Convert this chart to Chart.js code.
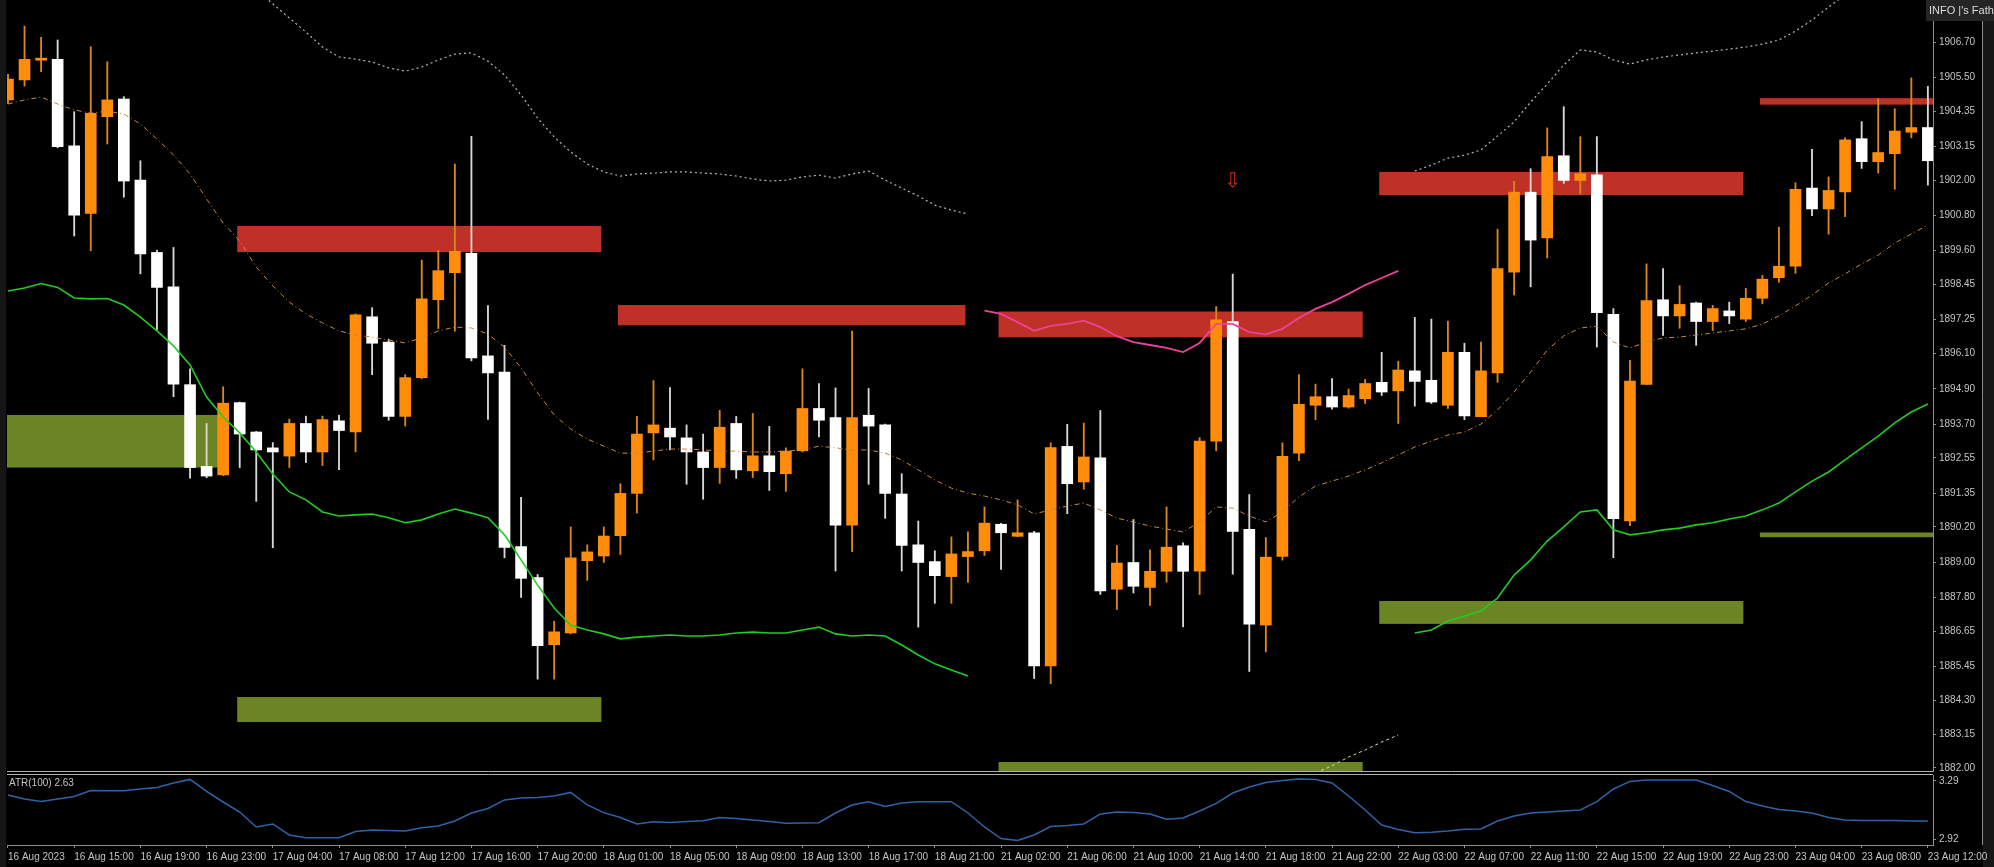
<!DOCTYPE html>
<html>
<head>
<meta charset="utf-8">
<script src="https://cdn.jsdelivr.net/npm/chart.js@4.4.0/dist/chart.umd.min.js"></script>
<style>
  html, body { margin: 0; padding: 0; background: #000; }
  body { width: 1994px; height: 867px; position: relative; overflow: hidden; }
  canvas { position: absolute; left: 0; }
  #priceChart { top: 0; }
  #atrChart { top: 772px; }
</style>
</head>
<body>
<canvas id="priceChart" width="1994" height="772"></canvas>
<canvas id="atrChart" width="1994" height="95"></canvas>
<script>
// XAUUSD H1, 16 Aug 11:00 -> 23 Aug 12:00 (117 bars)
let opens = [
  1904.73, 1905.41, 1906.08, 1906.11, 1903.17, 1900.87, 1904.16, 1904.76, 1902.00, 1899.54,
  1898.37, 1895.04, 1892.26, 1891.97, 1894.43, 1893.43, 1892.89, 1892.61, 1893.72, 1892.75,
  1893.81, 1893.43, 1897.35, 1896.49, 1893.96, 1895.28, 1897.93, 1898.85, 1899.51, 1896.02,
  1895.47, 1889.53, 1888.48, 1886.19, 1886.59, 1889.05, 1889.21, 1889.90, 1891.34, 1893.40,
  1893.56, 1893.23, 1892.75, 1892.22, 1893.72, 1892.11, 1892.62, 1892.01, 1892.79, 1894.23,
  1893.92, 1890.26, 1894.00, 1893.67, 1891.32, 1889.59, 1889.02, 1888.51, 1889.19, 1889.39,
  1890.29, 1889.88, 1890.00, 1885.47, 1892.94, 1891.73, 1892.55, 1888.08, 1888.99, 1888.14,
  1888.69, 1889.56, 1888.69, 1893.12, 1897.19, 1890.12, 1886.86, 1889.20, 1892.71, 1894.34,
  1894.63, 1894.28, 1894.56, 1895.12, 1894.83, 1895.51, 1895.19, 1894.34, 1896.14, 1893.95,
  1895.44, 1898.87, 1901.59, 1900.03, 1902.83, 1901.99, 1902.18, 1897.43, 1890.40, 1895.05,
  1897.93, 1897.38, 1897.82, 1897.19, 1897.55, 1897.27, 1897.98, 1898.68, 1899.07, 1901.73,
  1901.02, 1901.60, 1903.41, 1902.63, 1902.90, 1903.63, 1903.79,
];
let highs = [
  1905.60, 1907.24, 1906.86, 1906.77, 1904.33, 1906.54, 1906.03, 1904.84, 1902.66, 1899.62,
  1899.71, 1895.58, 1893.72, 1894.97, 1894.45, 1893.45, 1893.07, 1893.87, 1893.97, 1893.97,
  1894.00, 1897.45, 1897.66, 1896.59, 1895.38, 1899.28, 1899.61, 1902.55, 1903.49, 1897.73,
  1896.38, 1891.21, 1888.58, 1886.99, 1890.20, 1889.59, 1890.20, 1891.67, 1893.96, 1895.18,
  1894.94, 1893.67, 1893.36, 1894.17, 1893.96, 1894.06, 1893.62, 1892.89, 1895.58, 1895.08,
  1894.93, 1896.86, 1894.91, 1893.70, 1892.01, 1890.40, 1889.39, 1889.86, 1890.03, 1890.88,
  1890.32, 1891.12, 1890.05, 1893.06, 1893.69, 1893.73, 1894.16, 1889.57, 1890.45, 1889.42,
  1890.88, 1889.66, 1893.24, 1897.70, 1898.80, 1891.30, 1889.84, 1893.06, 1895.38, 1895.06,
  1895.25, 1894.89, 1895.22, 1896.14, 1895.84, 1897.33, 1897.27, 1897.20, 1896.45, 1896.49,
  1900.33, 1901.96, 1902.39, 1903.78, 1904.50, 1903.48, 1903.48, 1897.63, 1895.87, 1899.15,
  1898.99, 1898.41, 1897.85, 1897.74, 1897.85, 1898.32, 1898.76, 1900.40, 1901.91, 1903.05,
  1902.11, 1903.44, 1903.99, 1904.77, 1904.43, 1905.48, 1905.19,
];
let lows = [
  1904.60, 1905.20, 1905.69, 1903.10, 1900.10, 1899.60, 1903.23, 1901.42, 1898.81, 1896.90,
  1894.63, 1891.86, 1891.87, 1891.95, 1892.22, 1891.07, 1889.49, 1892.22, 1892.39, 1892.29,
  1892.15, 1892.75, 1895.38, 1893.83, 1893.63, 1895.24, 1896.95, 1896.86, 1895.85, 1893.86,
  1889.15, 1887.80, 1885.02, 1885.02, 1886.56, 1888.38, 1888.99, 1889.26, 1890.67, 1892.48,
  1892.82, 1891.65, 1891.14, 1891.68, 1891.85, 1891.88, 1891.44, 1891.41, 1892.75, 1893.26,
  1888.70, 1889.36, 1891.65, 1890.49, 1888.70, 1886.79, 1887.60, 1887.60, 1888.31, 1889.23,
  1888.75, 1889.87, 1885.04, 1884.86, 1890.65, 1891.48, 1887.90, 1887.39, 1887.95, 1887.53,
  1888.32, 1886.80, 1887.90, 1892.79, 1888.59, 1885.28, 1885.95, 1889.07, 1892.45, 1893.85,
  1894.21, 1894.24, 1894.40, 1894.67, 1893.72, 1894.31, 1894.40, 1894.23, 1893.85, 1893.95,
  1895.12, 1898.09, 1898.37, 1899.35, 1901.89, 1901.53, 1896.32, 1889.15, 1890.24, 1895.05,
  1896.72, 1896.96, 1896.38, 1896.88, 1897.12, 1897.19, 1897.79, 1898.52, 1898.83, 1900.79,
  1900.16, 1900.76, 1902.40, 1902.24, 1901.69, 1903.44, 1901.83,
];
let closes = [
  1905.44, 1906.11, 1906.15, 1903.14, 1900.81, 1904.27, 1904.73, 1901.97, 1899.49, 1898.35,
  1895.06, 1892.22, 1891.93, 1894.41, 1893.36, 1892.82, 1892.75, 1893.72, 1892.75, 1893.85,
  1893.48, 1897.42, 1896.45, 1893.96, 1895.28, 1897.96, 1898.92, 1899.58, 1895.95, 1895.44,
  1889.50, 1888.45, 1886.16, 1886.63, 1889.15, 1889.35, 1889.89, 1891.34, 1893.36, 1893.67,
  1893.26, 1892.75, 1892.22, 1893.59, 1892.14, 1892.62, 1892.08, 1892.78, 1894.23, 1893.83,
  1890.26, 1893.92, 1893.63, 1891.34, 1889.57, 1888.99, 1888.54, 1889.28, 1889.36, 1890.33,
  1890.00, 1890.00, 1885.47, 1892.90, 1891.67, 1892.58, 1888.02, 1888.97, 1888.18, 1888.69,
  1889.51, 1888.69, 1893.12, 1897.25, 1890.05, 1886.89, 1889.17, 1892.60, 1894.37, 1894.63,
  1894.28, 1894.67, 1895.08, 1894.79, 1895.54, 1895.15, 1894.45, 1896.14, 1893.98, 1895.51,
  1898.99, 1901.59, 1899.96, 1902.80, 1901.99, 1902.22, 1897.49, 1890.48, 1895.16, 1897.90,
  1897.38, 1897.77, 1897.19, 1897.63, 1897.38, 1897.98, 1898.63, 1899.07, 1901.69, 1901.02,
  1901.65, 1903.37, 1902.63, 1902.94, 1903.67, 1903.79, 1902.66,
];

// indicator lines (null = not drawn)
let greenLine = [
  1898.23, 1898.33, 1898.48, 1898.35, 1897.99, 1897.96, 1897.97, 1897.75, 1897.34, 1896.87,
  1896.36, 1895.71, 1894.62, 1893.94, 1893.40, 1892.75, 1892.00, 1891.39, 1891.12, 1890.71,
  1890.57, 1890.61, 1890.64, 1890.51, 1890.34, 1890.44, 1890.64, 1890.81, 1890.67, 1890.51,
  1889.93, 1889.08, 1888.22, 1887.44, 1886.86, 1886.69, 1886.56, 1886.39, 1886.45, 1886.49,
  1886.52, 1886.49, 1886.49, 1886.52, 1886.59, 1886.62, 1886.59, 1886.59, 1886.69, 1886.79,
  1886.56, 1886.49, 1886.52, 1886.49, 1886.18, 1885.84, 1885.54, 1885.33, 1885.13, null,
  null, null, null, null, null, null, null, null, null, null,
  null, null, null, null, null, null, null, null, null, null,
  null, null, null, null, null, 1886.59, 1886.69, 1887.00, 1887.17, 1887.34,
  1887.78, 1888.56, 1889.08, 1889.72, 1890.20, 1890.71, 1890.78, 1890.10, 1889.93, 1890.00,
  1890.10, 1890.16, 1890.27, 1890.34, 1890.47, 1890.57, 1890.78, 1891.01, 1891.39, 1891.76,
  1892.07, 1892.48, 1892.89, 1893.29, 1893.74, 1894.11, 1894.38,
];
let midLine = [
  1904.59, 1904.73, 1904.83, 1904.59, 1904.39, 1904.28, 1904.35, 1904.25, 1903.91, 1903.40,
  1902.86, 1902.21, 1901.36, 1900.54, 1899.93, 1899.04, 1898.40, 1897.85, 1897.45, 1897.14,
  1896.87, 1896.73, 1896.66, 1896.56, 1896.46, 1896.63, 1896.87, 1897.00, 1896.97, 1896.76,
  1896.32, 1895.61, 1894.76, 1894.01, 1893.53, 1893.19, 1892.95, 1892.71, 1892.71, 1892.78,
  1892.85, 1892.85, 1892.82, 1892.78, 1892.78, 1892.75, 1892.75, 1892.78, 1892.82, 1892.95,
  1892.89, 1892.82, 1892.82, 1892.71, 1892.48, 1892.14, 1891.80, 1891.52, 1891.35, 1891.25,
  1891.12, 1890.95, 1890.64, 1890.78, 1890.91, 1891.01, 1890.78, 1890.50, 1890.37, 1890.23,
  1890.13, 1890.03, 1890.37, 1890.88, 1890.84, 1890.57, 1890.37, 1890.71, 1891.22, 1891.59,
  1891.76, 1891.93, 1892.14, 1892.38, 1892.65, 1892.92, 1893.12, 1893.33, 1893.43, 1893.70,
  1894.18, 1894.79, 1895.47, 1896.22, 1896.70, 1896.97, 1897.03, 1896.49, 1896.29, 1896.49,
  1896.63, 1896.66, 1896.73, 1896.80, 1896.87, 1896.94, 1897.10, 1897.38, 1897.72, 1898.09,
  1898.50, 1898.81, 1899.15, 1899.45, 1899.86, 1900.17, 1900.47,
];
let upperLine = [
  null, null, null, null, null, null, null, null, null, null,
  null, null, null, 1909.44, 1908.97, 1908.49, 1908.00, 1907.52, 1907.04, 1906.53,
  1906.19, 1906.12, 1906.02, 1905.82, 1905.71, 1905.85, 1906.09, 1906.29, 1906.33, 1906.05,
  1905.58, 1904.90, 1904.11, 1903.47, 1902.96, 1902.55, 1902.28, 1902.14, 1902.21, 1902.24,
  1902.28, 1902.28, 1902.24, 1902.21, 1902.14, 1902.04, 1901.97, 1902.00, 1902.11, 1902.17,
  1902.07, 1902.21, 1902.31, 1902.00, 1901.73, 1901.46, 1901.15, 1900.98, 1900.85, null,
  null, null, null, null, null, null, null, null, null, null,
  null, null, null, null, null, null, null, null, null, null,
  null, null, null, null, null, 1902.31, 1902.51, 1902.75, 1902.85, 1903.03,
  1903.50, 1903.98, 1904.66, 1905.27, 1905.92, 1906.43, 1906.36, 1906.09, 1905.95, 1906.09,
  1906.19, 1906.26, 1906.33, 1906.39, 1906.46, 1906.53, 1906.63, 1906.77, 1907.07, 1907.45,
  1907.89, 1908.30, 1908.70, null, null, null, null,
];
let pinkLine = [
  null, null, null, null, null, null, null, null, null, null,
  null, null, null, null, null, null, null, null, null, null,
  null, null, null, null, null, null, null, null, null, null,
  null, null, null, null, null, null, null, null, null, null,
  null, null, null, null, null, null, null, null, null, null,
  null, null, null, null, null, null, null, null, null, 1897.56,
  1897.45, 1897.17, 1896.87, 1897.04, 1897.11, 1897.22, 1897.00, 1896.69, 1896.49, 1896.39,
  1896.29, 1896.15, 1896.46, 1897.11, 1897.11, 1896.83, 1896.75, 1896.94, 1897.31, 1897.62,
  1897.85, 1898.13, 1898.43, 1898.67, 1898.91, null, null, null, null, null,
  null, null, null, null, null, null, null, null, null, null,
  null, null, null, null, null, null, null, null, null, null,
  null, null, null, null, null, null, null,
];
let lowerStub = [
  null, null, null, null, null, null, null, null, null, null,
  null, null, null, null, null, null, null, null, null, null,
  null, null, null, null, null, null, null, null, null, null,
  null, null, null, null, null, null, null, null, null, null,
  null, null, null, null, null, null, null, null, null, null,
  null, null, null, null, null, null, null, null, null, null,
  null, null, null, null, null, null, null, null, null, null,
  null, null, null, null, null, null, null, null, null, 1881.83,
  1882.07, 1882.37, 1882.61, 1882.88, 1883.12, null, null, null, null, null,
  null, null, null, null, null, null, null, null, null, null,
  null, null, null, null, null, null, null, null, null, null,
  null, null, null, null, null, null, null,
];
let atrValues = [
  3.201, 3.175, 3.159, 3.175, 3.191, 3.229, 3.228, 3.228, 3.239, 3.249,
  3.277, 3.300, 3.223, 3.156, 3.092, 2.997, 3.016, 2.946, 2.928, 2.928,
  2.928, 2.968, 2.977, 2.974, 2.971, 2.992, 3.003, 3.035, 3.086, 3.115,
  3.169, 3.182, 3.185, 3.194, 3.217, 3.137, 3.088, 3.057, 3.016, 3.030,
  3.025, 3.032, 3.037, 3.057, 3.051, 3.041, 3.032, 3.020, 3.022, 3.024,
  3.086, 3.137, 3.158, 3.127, 3.150, 3.158, 3.158, 3.158, 3.086, 2.997,
  2.923, 2.911, 2.946, 3.000, 3.006, 3.016, 3.080, 3.092, 3.089, 3.080,
  3.046, 3.054, 3.099, 3.147, 3.213, 3.252, 3.280, 3.293, 3.303, 3.300,
  3.277, 3.194, 3.105, 3.009, 2.981, 2.960, 2.963, 2.971, 2.982, 2.984,
  3.035, 3.067, 3.086, 3.092, 3.099, 3.105, 3.158, 3.239, 3.287, 3.296,
  3.296, 3.296, 3.296, 3.261, 3.223, 3.159, 3.131, 3.108, 3.099, 3.086,
  3.057, 3.041, 3.038, 3.038, 3.038, 3.035, 3.035,
];

// supply / demand rectangles, in bar index and price
let supplyStart = [13.85, 36.85, 59.85, 82.85, 105.85];
let supplyEnd = [35.85, 57.85, 81.85, 104.85, 118];
let supplyTop = [1900.44, 1897.75, 1897.53, 1902.28, 1904.79];
let supplyBottom = [1899.55, 1897.06, 1896.65, 1901.49, 1904.57];
let demandStart = [-1, 13.85, 59.85, 82.85, 105.85];
let demandEnd = [12.85, 35.85, 81.85, 104.85, 118];
let demandTop = [1894.01, 1884.41, 1882.20, 1887.68, 1890.01];
let demandBottom = [1892.22, 1883.56, 1881.80, 1886.90, 1889.85];

let arrowIndex = [74];
let arrowPrice = [1901.94];

let priceTicks = [
  1906.70, 1905.50, 1904.35, 1903.15, 1902.00, 1900.80, 1899.60, 1898.45, 1897.25, 1896.10, 1894.90,
  1893.70, 1892.55, 1891.35, 1890.20, 1889.00, 1887.80, 1886.65, 1885.45, 1884.30, 1883.15, 1882.00,
];
let atrTicks = [3.29, 2.92];

let timeTickIndex = [
  0, 4, 8, 12, 16, 20, 24, 28, 32, 36, 40, 44, 48, 52, 56,
  60, 64, 68, 72, 76, 80, 84, 88, 92, 96, 100, 104, 108, 112, 116,
];
let timeTickLabels = [
  '16 Aug 2023', '16 Aug 15:00', '16 Aug 19:00', '16 Aug 23:00', '17 Aug 04:00',
  '17 Aug 08:00', '17 Aug 12:00', '17 Aug 16:00', '17 Aug 20:00', '18 Aug 01:00',
  '18 Aug 05:00', '18 Aug 09:00', '18 Aug 13:00', '18 Aug 17:00', '18 Aug 21:00',
  '21 Aug 02:00', '21 Aug 06:00', '21 Aug 10:00', '21 Aug 14:00', '21 Aug 18:00',
  '21 Aug 22:00', '22 Aug 03:00', '22 Aug 07:00', '22 Aug 11:00', '22 Aug 15:00',
  '22 Aug 19:00', '22 Aug 23:00', '23 Aug 04:00', '23 Aug 08:00', '23 Aug 12:00',
];

let axisFont = { family: 'Liberation Sans', size: 10 };
let axisText = '#c4c4c4';
let frameColor = '#8e8e8e';
let xMin = -0.06;
let xMax = 116.31;

let toPoints = (values) => values.map((v, i) => ({ x: i, y: v }));

let lineSet = (values, color, width, dash) => ({
  type: 'line',
  data: toPoints(values),
  borderColor: color,
  borderWidth: width,
  borderDash: dash,
  pointRadius: 0,
  spanGaps: false,
  tension: 0,
  order: 0,
});

let zonesPlugin = {
  id: 'zones',
  beforeDatasetsDraw: (chart) => {
    let { ctx, chartArea, scales } = chart;
    ctx.save();
    ctx.beginPath();
    ctx.rect(chartArea.left, chartArea.top, chartArea.width, chartArea.height);
    ctx.clip();
    let drawZones = (starts, ends, tops, bottoms, color) => {
      starts.forEach((start, k) => {
        let x0 = scales.x.getPixelForValue(start);
        let x1 = scales.x.getPixelForValue(ends[k]);
        let y0 = scales.y.getPixelForValue(tops[k]);
        let y1 = scales.y.getPixelForValue(bottoms[k]);
        ctx.fillStyle = color;
        ctx.fillRect(x0, y0, x1 - x0, y1 - y0);
      });
    };
    drawZones(supplyStart, supplyEnd, supplyTop, supplyBottom, '#bf3126');
    drawZones(demandStart, demandEnd, demandTop, demandBottom, '#6b8424');
    ctx.restore();
  },
};

let sideStrips = (chart, lineTop, lineBottom) => {
  let { ctx, width, height } = chart;
  ctx.save();
  ctx.fillStyle = '#161616';
  ctx.fillRect(0, 0, 6, height);
  ctx.fillRect(1983, 0, width - 1983, height);
  ctx.strokeStyle = frameColor;
  ctx.lineWidth = 1;
  ctx.beginPath();
  ctx.moveTo(1982.5, lineTop);
  ctx.lineTo(1982.5, lineBottom);
  ctx.stroke();
  ctx.restore();
};

let priceFramePlugin = {
  id: 'priceFrame',
  beforeDraw: (chart) => sideStrips(chart, 21, chart.height),
  afterDraw: (chart) => {
    let { ctx, chartArea, scales } = chart;
    ctx.save();
    // bottom border of the price panel
    ctx.strokeStyle = '#b0b0b0';
    ctx.beginPath();
    ctx.moveTo(chartArea.left, 771.5);
    ctx.lineTo(chartArea.right, 771.5);
    ctx.stroke();

    // signal arrow
    ctx.fillStyle = '#d42a1a';
    ctx.font = '20px "DejaVu Sans"';
    ctx.textAlign = 'center';
    ctx.textBaseline = 'middle';
    arrowIndex.forEach((idx, k) => {
      ctx.fillText('⇩', scales.x.getPixelForValue(idx), scales.y.getPixelForValue(arrowPrice[k]));
    });

    // info label box, top right
    ctx.fillStyle = '#252525';
    ctx.fillRect(1926, 0, 68, 21);
    ctx.fillStyle = '#dcdcdc';
    ctx.font = '11px "Liberation Sans"';
    ctx.textAlign = 'left';
    ctx.fillText("INFO |'s Fath", 1929, 11);
    ctx.restore();
  },
};

let atrFramePlugin = {
  id: 'atrFrame',
  beforeDraw: (chart) => sideStrips(chart, 0, chart.chartArea.bottom),
  afterDraw: (chart) => {
    let { ctx, chartArea } = chart;
    ctx.save();
    ctx.strokeStyle = '#b0b0b0';
    ctx.beginPath();
    ctx.moveTo(chartArea.left, 2.5);
    ctx.lineTo(chartArea.right, 2.5);
    ctx.stroke();
    ctx.fillStyle = axisText;
    ctx.font = '10px "Liberation Sans"';
    ctx.textBaseline = 'middle';
    ctx.fillText('ATR(100) 2.63', 9, 11);
    ctx.restore();
  },
};

let candleIdx = opens.map((o, i) => i);
let isUp = candleIdx.map((i) => closes[i] >= opens[i]);

let priceCtx = document.getElementById('priceChart').getContext('2d');
new Chart(priceCtx, {
  type: 'bar',
  data: {
    datasets: [
      lineSet(upperLine, '#b0bab0', 1.2, [2, 3]),
      lineSet(lowerStub, '#dcdcaa', 1, [3, 3]),
      lineSet(midLine, '#c8873e', 1, [5, 3, 1, 3]),
      lineSet(greenLine, '#22cc22', 1.6, []),
      lineSet(pinkLine, '#f0409a', 1.8, []),
      {
        label: 'bodies',
        data: candleIdx.map((i) => ({ x: i, y: [opens[i], closes[i]] })),
        backgroundColor: isUp.map((up) => (up ? '#ff8c0a' : '#ffffff')),
        borderWidth: 0,
        barThickness: 11,
        minBarLength: 2,
        grouped: false,
        order: 1,
      },
      {
        label: 'wicks',
        data: candleIdx.map((i) => ({ x: i, y: [lows[i], highs[i]] })),
        backgroundColor: isUp.map((up) => (up ? '#d9861c' : '#d8d8d8')),
        borderWidth: 0,
        barThickness: 1.2,
        grouped: false,
        order: 2,
      },
    ],
  },
  options: {
    responsive: false,
    animation: false,
    events: [],
    layout: { padding: { left: 7, right: 0, top: 0, bottom: 0 } },
    plugins: { legend: { display: false }, tooltip: { enabled: false } },
    scales: {
      x: {
        type: 'linear',
        min: xMin,
        max: xMax,
        offset: false,
        display: false,
        grid: { offset: false },
      },
      y: {
        position: 'right',
        min: 1881.86,
        max: 1908.13,
        beginAtZero: false,
        afterBuildTicks: (scale) => {
          scale.ticks = priceTicks.map((v) => ({ value: v }));
        },
        afterFit: (scale) => {
          scale.width = 61;
          scale.paddingTop = 0;
          scale.paddingBottom = 0;
        },
        border: { display: true, color: frameColor },
        grid: { drawOnChartArea: false, drawTicks: true, tickLength: 3, color: frameColor },
        ticks: {
          color: axisText,
          font: axisFont,
          padding: 3,
          autoSkip: false,
          callback: (v) => Number(v).toFixed(2),
        },
      },
    },
  },
  plugins: [zonesPlugin, priceFramePlugin],
});

let atrCtx = document.getElementById('atrChart').getContext('2d');
new Chart(atrCtx, {
  type: 'line',
  data: {
    datasets: [
      {
        label: 'ATR(100)',
        data: toPoints(atrValues),
        borderColor: '#2f63a8',
        borderWidth: 1.5,
        pointRadius: 0,
        tension: 0,
      },
    ],
  },
  options: {
    responsive: false,
    animation: false,
    events: [],
    layout: { padding: { left: 7, right: 0, top: 3, bottom: 0 } },
    plugins: { legend: { display: false }, tooltip: { enabled: false } },
    scales: {
      x: {
        type: 'linear',
        min: xMin,
        max: xMax,
        afterBuildTicks: (scale) => {
          scale.ticks = timeTickIndex.map((v) => ({ value: v }));
        },
        afterFit: (scale) => {
          scale.height = 22;
          scale.paddingLeft = 0;
          scale.paddingRight = 0;
        },
        border: { display: true, color: frameColor },
        grid: { drawOnChartArea: false, drawTicks: true, tickLength: 3, color: frameColor },
        ticks: {
          color: axisText,
          font: axisFont,
          align: 'start',
          padding: 3,
          maxRotation: 0,
          autoSkip: false,
          callback: (v, index) => timeTickLabels[index],
        },
      },
      y: {
        position: 'right',
        min: 2.882,
        max: 3.328,
        afterBuildTicks: (scale) => {
          scale.ticks = atrTicks.map((v) => ({ value: v }));
        },
        afterFit: (scale) => {
          scale.width = 61;
          scale.paddingTop = 0;
          scale.paddingBottom = 0;
        },
        border: { display: true, color: frameColor },
        grid: { drawOnChartArea: false, drawTicks: true, tickLength: 3, color: frameColor },
        ticks: {
          color: axisText,
          font: axisFont,
          padding: 3,
          autoSkip: false,
          callback: (v) => Number(v).toFixed(2),
        },
      },
    },
  },
  plugins: [atrFramePlugin],
});
</script>
</body>
</html>
